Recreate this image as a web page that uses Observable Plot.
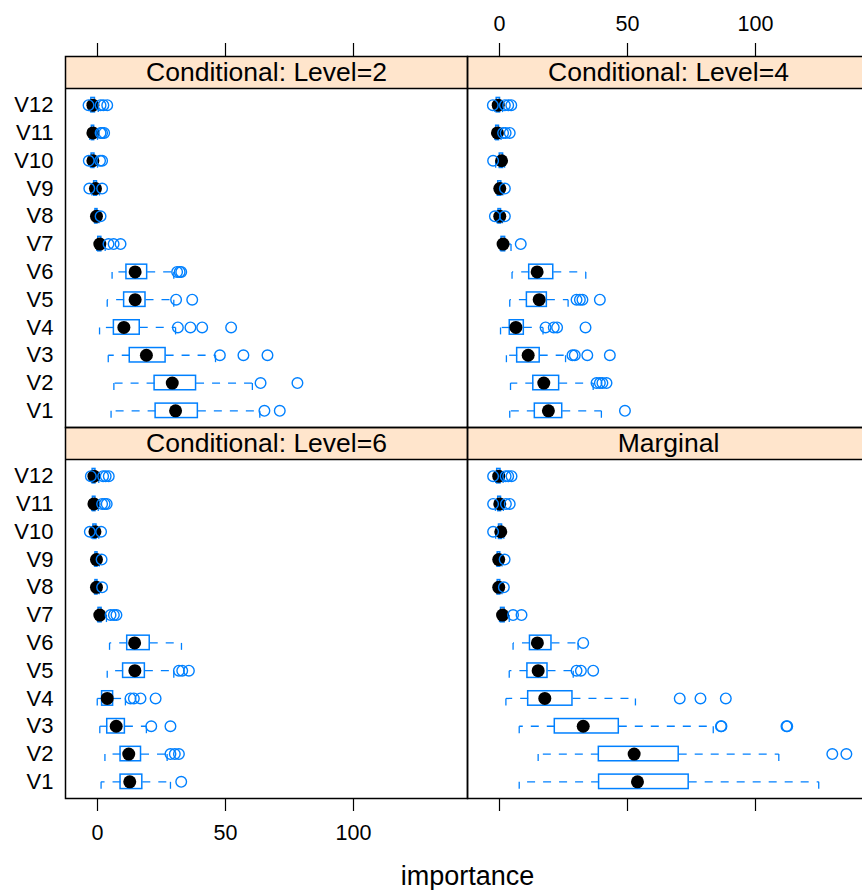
<!DOCTYPE html>
<html><head><meta charset="utf-8">
<script src="https://cdn.jsdelivr.net/npm/d3@7"></script>
<script src="https://cdn.jsdelivr.net/npm/@observablehq/plot@0.6"></script>
<style>
body{margin:0;background:#fff;}
#chart{width:862px;height:890px;overflow:hidden;background:#fff;}
#chart svg{max-width:none !important;height:890px !important;width:870px !important;}
</style>
</head><body><div id="chart"></div>
<script>
// ---- data ----
const variables = ["V1","V2","V3","V4","V5","V6","V7","V8","V9","V10","V11","V12"];
const panelTitles = ["Conditional: Level=2","Conditional: Level=4","Conditional: Level=6","Marginal"];
const panelCol = ["L","R","L","R"];
const panelRow = ["T","T","B","B"];
const xTicks = [0, 50, 100];
const xLabel = "importance";

const whiskerLow = [
  [5.3, 6.4, 4.2, 0.8, 3.8, 5.7, -0.3, -1.2, -2.2, -2.8, -3.0, -2.8],
  [4.0, 4.3, 2.7, 0.4, 4.0, 4.9, 0.3, -1.0, -1.0, -1.5, -1.8, -1.8],
  [1.4, 2.9, 0.9, -0.1, 3.8, 4.7, 0.0, -1.2, -1.2, -2.4, -2.2, -2.1],
  [7.7, 15.1, 7.7, 2.5, 3.8, 5.3, 0.0, -1.0, -1.0, -1.5, -1.6, -1.5]
];
const quartileLow = [
  [22.7, 22.3, 12.6, 6.4, 10.4, 11.3, 0.3, -0.8, -1.3, -2.3, -2.2, -2.4],
  [13.8, 13.2, 6.9, 4.0, 10.7, 11.6, 0.8, -0.4, -0.5, 0.1, -1.3, -1.1],
  [9.0, 9.0, 3.8, 1.8, 10.0, 11.6, 0.4, -0.8, -0.8, -1.6, -1.8, -1.9],
  [38.9, 38.8, 21.6, 11.2, 10.9, 11.9, 0.6, -0.7, -0.7, -0.2, -0.5, -0.9]
];
const medians = [
  [30.5, 29.2, 19.1, 10.3, 14.7, 14.7, 0.9, -0.4, -0.8, -1.8, -1.8, -1.8],
  [19.1, 17.3, 11.2, 6.4, 15.5, 14.7, 1.4, 0.1, 0.1, 0.8, -0.8, -0.5],
  [12.6, 12.2, 7.3, 3.8, 14.6, 14.5, 0.9, -0.4, -0.4, -1.0, -1.4, -1.4],
  [53.9, 52.6, 32.7, 17.7, 15.1, 14.8, 1.2, -0.3, -0.3, 0.5, 0.1, -0.3]
];
const quartileHigh = [
  [39.2, 38.5, 26.6, 16.5, 18.75, 19.4, 1.5, 0.0, -0.2, -1.2, -1.3, -1.0],
  [24.5, 23.3, 15.7, 9.5, 18.5, 21.0, 2.2, 0.6, 0.7, 1.4, -0.2, 0.2],
  [17.5, 17.0, 10.7, 6.1, 18.5, 20.4, 1.6, 0.0, 0.0, -0.4, -0.8, -0.8],
  [73.9, 70.0, 46.6, 28.5, 18.75, 20.3, 2.0, 0.3, 0.3, 1.0, 0.6, 0.4]
];
const whiskerHigh = [
  [63.4, 60.5, 46.1, 30.5, 29.8, 29.8, 3.0, 0.6, 0.8, 0.0, 0.0, 0.3],
  [39.8, 36.6, 25.8, 17.0, 26.8, 33.7, 4.5, 1.2, 1.3, 2.0, 0.6, 1.2],
  [28.5, 27.2, 19.1, 10.9, 29.8, 32.8, 3.5, 0.7, 0.7, 0.5, 0.3, 0.5],
  [124.7, 109.1, 83.5, 53.1, 28.8, 30.7, 3.8, 1.0, 1.0, 1.7, 1.5, 1.4]
];
const outliers = [
  [[65.2, 71.2], [63.7, 78.1], [47.8, 57, 66.4], [31.4, 36.3, 40.9, 52.2], [30.7, 37], [31.1, 32.1, 32.7], [4.3, 6.3, 9], [1.2], [-3.2, 1.8], [-3.4, 1.0, 1.8], [1.2, 1.8, 2.6], [-3.5, 1.2, 2.3, 3.8]],
  [[49], [37.9, 39.2, 40.2, 41.8], [28.5, 29.4, 34.3, 43.1], [18, 21.2, 22.5, 33.6], [30.1, 31.4, 32.4, 39.2], [], [8.3], [-1.8, 2.1], [2.1], [-2.5], [1.4, 2.4, 4.0], [-2.6, 2.1, 3.4, 4.6]],
  [[32.7], [28.5, 30.2, 31.8], [21, 28.5], [12.9, 14.2, 16.8, 22.7], [31.8, 33.1, 35.7], [], [5.1, 6.4, 7.4], [1.8], [1.6], [-3.0, 1.4], [1.8, 2.8, 3.6], [-2.6, 2.2, 3.2, 4.4]],
  [[], [130, 135.5], [86.5, 86.7, 112.1, 112.4], [70.4, 78.5, 88.4], [30.1, 31.8, 36.6], [32.7], [5.3, 8.6], [1.7], [2.0], [-2.5], [-2.5, 2.5, 4.0], [-2.5, 2.4, 3.4, 4.7]]
];

// ---- layout constants ----
const PX = 339 / 12.2;           // pixels per y unit
const yMin = 0.4, yPanelTop = 12.6, yTop = 12.6 + 32 / PX;
const xMin = -12.5, xMax = -12.5 + 402 / 2.56;
const blue = "#0080ff";
const font = "'Liberation Sans', Arial, Helvetica, sans-serif";

// ---- tables ----
const rows = [];
const outs = [];
panelTitles.forEach((t, p) => {
  variables.forEach((v, i) => {
    rows.push({fx: panelCol[p], fy: panelRow[p], v: i + 1,
      lo: whiskerLow[p][i], q1: quartileLow[p][i], med: medians[p][i],
      q3: quartileHigh[p][i], hi: whiskerHigh[p][i]});
    outliers[p][i].forEach(o => outs.push({fx: panelCol[p], fy: panelRow[p], v: i + 1, x: o}));
  });
});
const strips = panelTitles.map((t, p) => ({fx: panelCol[p], fy: panelRow[p], title: t}));
const topTicks = ["L", "R"].flatMap(c => xTicks.map(x => ({fx: c, fy: "T", x})));
const topLabels = xTicks.map(x => ({fx: "R", fy: "T", x}));
const bottomTicks = ["L", "R"].flatMap(c => xTicks.map(x => ({fx: c, fy: "B", x})));
const bottomLabels = xTicks.map(x => ({fx: "L", fy: "B", x}));
const yLabels = ["T", "B"].flatMap(r => variables.map((v, i) => ({fx: "L", fy: r, v: i + 1, label: v})));

const chart = Plot.plot({
  width: 870, height: 890,
  marginLeft: 65, marginRight: 1, marginTop: 56, marginBottom: 92,
  x: {domain: [xMin, xMax], axis: null},
  y: {domain: [yMin, yTop], axis: null},
  fx: {domain: ["L", "R"], padding: 0, axis: null},
  fy: {domain: ["T", "B"], padding: 0, axis: null},
  style: {fontFamily: font, background: "white", color: "black"},
  marks: [
    // strip backgrounds
    Plot.rect([0], {x1: xMin, x2: xMax, y1: yPanelTop, y2: yTop, fill: "#ffe5cc"}),
    Plot.text(strips, {fx: "fx", fy: "fy", x: (xMin + xMax) / 2, y: (yPanelTop + yTop) / 2,
      text: "title", fontSize: 26.5, fill: "black"}),
    // whiskers
    Plot.link(rows, {fx: "fx", fy: "fy", x1: "q1", x2: "lo", y1: "v", y2: "v",
      stroke: blue, strokeWidth: 1.3, strokeDasharray: "8,8"}),
    Plot.link(rows, {fx: "fx", fy: "fy", x1: "q3", x2: "hi", y1: "v", y2: "v",
      stroke: blue, strokeWidth: 1.3, strokeDasharray: "8,8"}),
    Plot.link(rows, {fx: "fx", fy: "fy", x1: "lo", x2: "lo", y1: "v", y2: d => d.v - 0.25,
      stroke: blue, strokeWidth: 1.3}),
    Plot.link(rows, {fx: "fx", fy: "fy", x1: "hi", x2: "hi", y1: "v", y2: d => d.v - 0.25,
      stroke: blue, strokeWidth: 1.3}),
    // boxes
    Plot.rect(rows, {fx: "fx", fy: "fy", x1: "q1", x2: "q3", y1: d => d.v - 0.26, y2: d => d.v + 0.26,
      fill: "none", stroke: blue, strokeWidth: 1.5}),
    // medians
    Plot.dot(rows, {fx: "fx", fy: "fy", x: "med", y: "v", r: 6.5, fill: "black", stroke: "none"}),
    // outliers
    Plot.dot(outs, {fx: "fx", fy: "fy", x: "x", y: "v", r: 5.3, fill: "none", stroke: blue, strokeWidth: 1.4}),
    // panel borders
    Plot.ruleY([yPanelTop], {stroke: "black", strokeWidth: 1.5}),
    Plot.frame({stroke: "black", strokeWidth: 1.5}),
    // x axes
    Plot.ruleX(topTicks, {fx: "fx", fy: "fy", x: "x", y1: yTop, y2: yTop, insetBottom: 13, stroke: "black", strokeWidth: 1.2}),
    Plot.text(topLabels, {fx: "fx", fy: "fy", x: "x", y: yTop, dy: -32, text: d => String(d.x), fontSize: 21.5, fill: "black"}),
    Plot.ruleX(bottomTicks, {fx: "fx", fy: "fy", x: "x", y1: yMin, y2: yMin, insetTop: 13, stroke: "black", strokeWidth: 1.2}),
    Plot.text(bottomLabels, {fx: "fx", fy: "fy", x: "x", y: yMin, dy: 35, text: d => String(d.x), fontSize: 21.5, fill: "black"}),
    // y labels
    Plot.text(yLabels, {fx: "fx", fy: "fy", x: xMin, y: "v", dx: -12, text: "label", textAnchor: "end", fontSize: 22, fill: "black"}),
    // x label
    Plot.text([{fx: "L", fy: "B"}], {fx: "fx", fy: "fy", x: xMax, y: yMin, dy: 78, text: () => xLabel, fontSize: 27, fill: "black"})
  ]
});
document.getElementById("chart").appendChild(chart);
</script>
</body></html>
